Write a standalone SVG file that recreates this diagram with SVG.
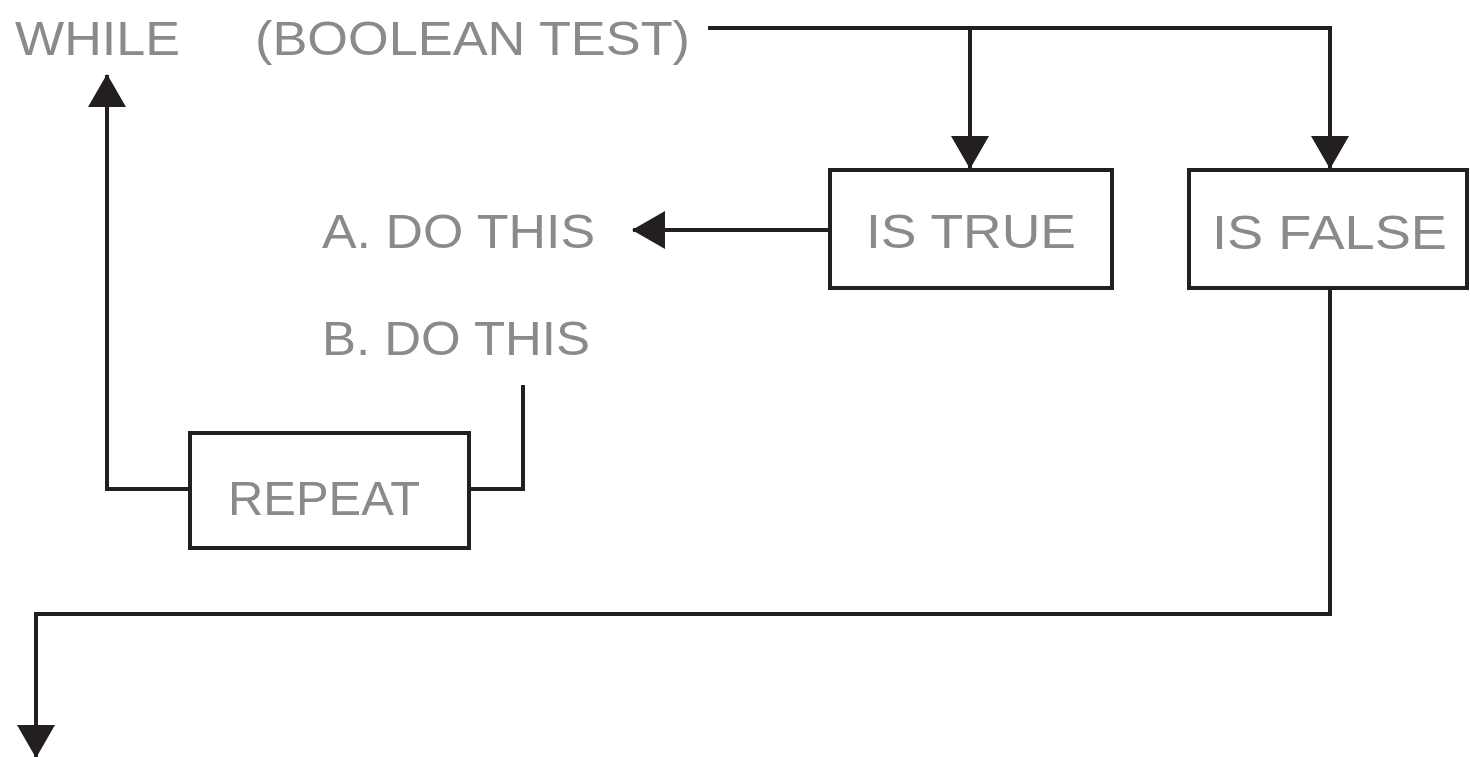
<svg xmlns="http://www.w3.org/2000/svg" width="1470" height="757" viewBox="0 0 1470 757">
<style>
.box{fill:#fff;stroke:#231f20;stroke-width:4}
.ln{fill:none;stroke:#231f20;stroke-width:4}
.t{font-family:"Liberation Sans",Arial,sans-serif;font-size:48px;fill:#8a8a8a;font-weight:normal}
</style>
<defs>
<marker id="ah" markerUnits="userSpaceOnUse" markerWidth="34" markerHeight="38" refX="32" refY="19" orient="auto" viewBox="0 0 34 38">
<path d="M0,0 L33,19 L0,38 Z" fill="#231f20"/>
</marker>
</defs>
<g id="connectors">
<polyline class="ln" points="708,28 1330,28 1330,168" marker-end="url(#ah)"/>
<polyline class="ln" points="970,28 970,168" marker-end="url(#ah)"/>
<polyline class="ln" points="830,230 633,230" marker-end="url(#ah)"/>
<polyline class="ln" points="523,385 523,489 469,489"/>
<polyline class="ln" points="190,489 107,489 107,75" marker-end="url(#ah)"/>
<polyline class="ln" points="1330,288 1330,614 36,614 36,757" marker-end="url(#ah)"/>
</g>
<g id="while">
<text class="t" x="15" y="55" textLength="165" lengthAdjust="spacingAndGlyphs">WHILE</text>
<text class="t" x="255" y="55" textLength="435" lengthAdjust="spacingAndGlyphs">(BOOLEAN TEST)</text>
</g>
<g id="is-true">
<rect class="box" x="830" y="170" width="282" height="118"/>
<text class="t" x="866" y="248" textLength="210" lengthAdjust="spacingAndGlyphs">IS TRUE</text>
</g>
<g id="is-false">
<rect class="box" x="1189" y="170" width="278" height="118"/>
<text class="t" x="1212" y="249" textLength="235" lengthAdjust="spacingAndGlyphs">IS FALSE</text>
</g>
<g id="do-a">
<text class="t" x="322" y="248" textLength="273" lengthAdjust="spacingAndGlyphs">A. DO THIS</text>
</g>
<g id="do-b">
<text class="t" x="322" y="355" textLength="268" lengthAdjust="spacingAndGlyphs">B. DO THIS</text>
</g>
<g id="repeat">
<rect class="box" x="190" y="433" width="279" height="115"/>
<text class="t" x="228" y="515" textLength="192" lengthAdjust="spacingAndGlyphs">REPEAT</text>
</g>
</svg>
